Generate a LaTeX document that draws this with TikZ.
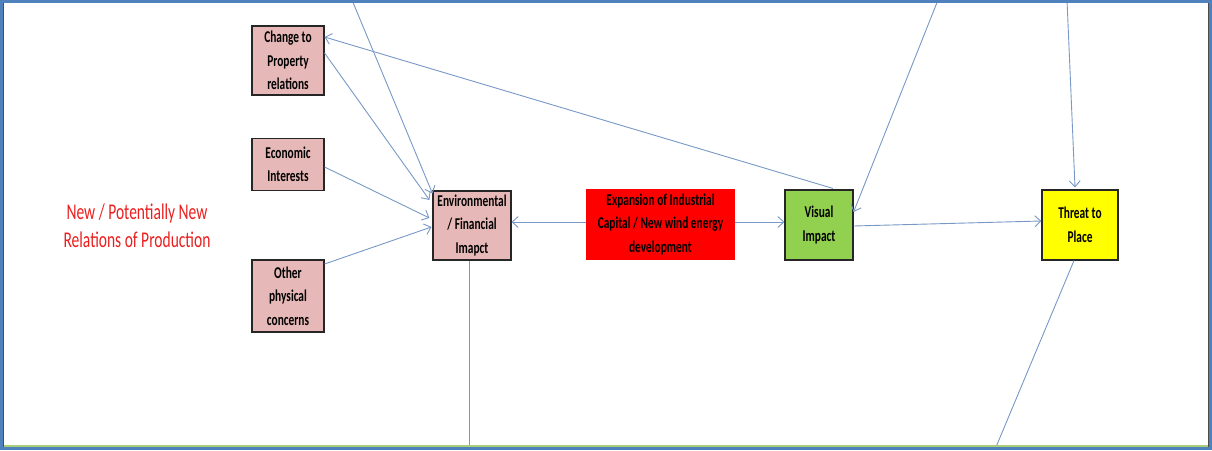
\documentclass[tikz,border=0pt]{standalone}
\usepackage{fontspec}
\setmainfont{Carlito}
% tall, narrow lettering for the labels
\newfontfamily\boxfont[FakeStretch=0.69]{Carlito}
\usetikzlibrary{arrows.meta}
\definecolor{framebl}{RGB}{79,129,189}
\definecolor{framegr}{RGB}{170,205,120}
\definecolor{linkbl}{RGB}{120,152,198}
\definecolor{pinkbox}{RGB}{230,184,183}
\definecolor{greenbox}{RGB}{146,208,80}
\definecolor{redbox}{RGB}{255,0,0}
\definecolor{yellowbox}{RGB}{255,255,0}
\definecolor{redtext}{RGB}{235,30,30}
\begin{document}
\begin{tikzpicture}[x=1pt,y=-1pt,
  factor/.style={draw=black!85, line width=1.1pt, align=center, inner sep=0pt,
    font=\boxfont\bfseries\fontsize{16.5}{23.5}\selectfont},
  link/.style={draw=linkbl, line width=0.9pt, -{Straight Barb[length=6pt,width=11pt,line width=0.9pt]}},
  plain/.style={draw=linkbl, line width=0.9pt}]
\useasboundingbox (0,0) rectangle (1212,450);

% boxes
\node[factor, fill=pinkbox, minimum width=72pt, minimum height=69pt] (chg) at (288,60.5) {Change to\\Property\\relations};
\node[factor, fill=pinkbox, minimum width=72pt, minimum height=52pt] (eco) at (288,164.5) {Economic\\Interests};
\node[factor, fill=pinkbox, minimum width=72pt, minimum height=72pt] (oth) at (288,296) {Other\\physical\\concerns};
\node[factor, fill=pinkbox, minimum width=78pt, minimum height=69pt] (env) at (472,225.5) {Environmental\\/ Financial\\Imapct};
\node[factor, fill=redbox, draw=redbox, minimum width=147pt, minimum height=69pt] (exp) at (660.5,224.5) {Expansion of Industrial\\Capital / New wind energy\\development};
\node[factor, fill=greenbox, minimum width=68pt, minimum height=70pt] (vis) at (819,225) {Visual\\Impact};
\node[factor, fill=yellowbox, minimum width=76pt, minimum height=70pt] (thr) at (1080,225) {Threat to\\Place};

\node[text=redtext, align=center, font=\boxfont\fontsize{22.5}{28}\selectfont] (rel) at (137,225.5) {New / Potentially New\\Relations of Production};

% free ends at the frame
\coordinate (t1) at (352,0);
\coordinate (t2) at (938,0);
\coordinate (t3) at (1067,0);
\coordinate (b1) at (469,447);
\coordinate (b2) at (996,447);

% connectors
\draw[link] (t1) -- ([yshift=-3pt]env.north west);
\draw[link] ([yshift=7.5pt]chg.east) -- ([xshift=-3pt,yshift=25.5pt]env.west);
\draw[link] ([yshift=-2.5pt]eco.east) -- ([xshift=-3pt,yshift=7.5pt]env.west);
\draw[link] ([yshift=32pt]oth.east) -- ([xshift=-1pt,yshift=-1.5pt]env.west);
\draw[link] ([yshift=2.5pt]exp.west) -- ([yshift=3.5pt]env.east);
\draw[link] ([yshift=2.5pt]exp.east) -- ([yshift=3pt]vis.west);
\draw[link] ([yshift=-1pt]vis.east) -- ([yshift=4pt]thr.west);
\draw[link] (t2) -- ([yshift=13pt]vis.east);
\draw[link] (t3) -- ([xshift=-5pt,yshift=2pt]thr.north);
\draw[link] ([xshift=14pt,yshift=1pt]vis.north) -- ([yshift=23.5pt]chg.east);
\draw[plain] ([xshift=-6pt]thr.south) -- (b2);
\draw[plain] ([xshift=-3pt]env.south) -- (b1);

% frame
\draw[framegr, line width=2pt] (3,445.5) -- (1208,445.5);
\draw[framebl, line width=3pt] (1.5,1.5) rectangle (1210.5,448.5);
\draw[black!70, line width=0.8pt] (3.6,3) -- (3.6,447);
\draw[black!70, line width=0.8pt] (1208.4,3) -- (1208.4,447);
\end{tikzpicture}
\end{document}
